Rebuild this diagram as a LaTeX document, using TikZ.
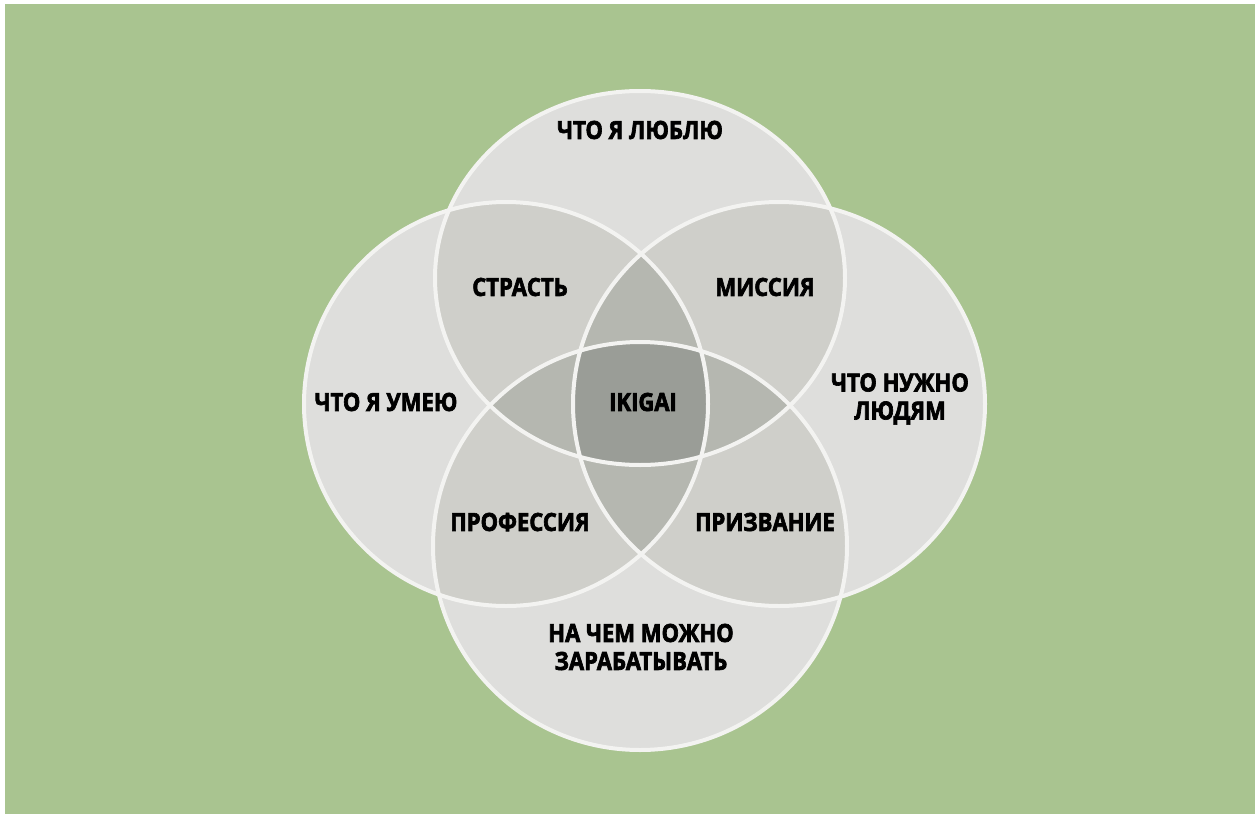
\documentclass[tikz,border=0pt]{standalone}
\usepackage{fontspec}
\setmainfont{Open Sans}
\newfontfamily\lblfont[FakeBold=2.6,FakeStretch=0.88]{Open Sans Bold}
\definecolor{bg}{RGB}{169,196,144}
\definecolor{cone}{RGB}{222,222,220}
\definecolor{ctwo}{RGB}{207,207,202}
\definecolor{cthree}{RGB}{181,183,176}
\definecolor{cfour}{RGB}{154,157,151}
\definecolor{rim}{RGB}{243,243,241}
\tikzset{
  eT/.style={x radius=205pt, y radius=187pt},
  eL/.style={x radius=202pt, y radius=202pt},
  eR/.style={x radius=206pt, y radius=202pt},
  eB/.style={x radius=207pt, y radius=204pt},
  lbl/.style={font=\lblfont\fontsize{25}{28}\selectfont, text=black, align=center, inner sep=0pt},
  rimline/.style={draw=rim, line width=4pt}
}
\begin{document}
\begin{tikzpicture}[x=1pt, y=-1pt]
\useasboundingbox (0,0) rectangle (1259,814);
\fill[white] (0,0) rectangle (1259,814);
\fill[bg] (5,4) rectangle (1255,814);
\coordinate (T) at (640,278);
\coordinate (L) at (506,404);
\coordinate (R) at (779,404);
\coordinate (B) at (640,546);
% single coverage
\fill[cone] (T) ellipse [eT];
\fill[cone] (L) ellipse [eL];
\fill[cone] (R) ellipse [eR];
\fill[cone] (B) ellipse [eB];
% double coverage
\begin{scope}\clip (T) ellipse [eT]; \fill[ctwo] (L) ellipse [eL]; \fill[ctwo] (R) ellipse [eR]; \fill[ctwo] (B) ellipse [eB];\end{scope}
\begin{scope}\clip (L) ellipse [eL]; \fill[ctwo] (R) ellipse [eR]; \fill[ctwo] (B) ellipse [eB];\end{scope}
\begin{scope}\clip (R) ellipse [eR]; \fill[ctwo] (B) ellipse [eB];\end{scope}
% triple coverage
\begin{scope}\clip (T) ellipse [eT]; \clip (L) ellipse [eL]; \fill[cthree] (R) ellipse [eR]; \fill[cthree] (B) ellipse [eB];\end{scope}
\begin{scope}\clip (T) ellipse [eT]; \clip (R) ellipse [eR]; \fill[cthree] (B) ellipse [eB];\end{scope}
\begin{scope}\clip (L) ellipse [eL]; \clip (R) ellipse [eR]; \fill[cthree] (B) ellipse [eB];\end{scope}
% quadruple coverage
\begin{scope}\clip (T) ellipse [eT]; \clip (L) ellipse [eL]; \clip (R) ellipse [eR]; \fill[cfour] (B) ellipse [eB];\end{scope}
% rims
\draw[rimline] (T) ellipse [eT];
\draw[rimline] (L) ellipse [eL];
\draw[rimline] (R) ellipse [eR];
\draw[rimline] (B) ellipse [eB];
% labels
\node[lbl] (love) at (640,130) {ЧТО Я ЛЮБЛЮ};
\node[lbl] (passion) at (520,287) {СТРАСТЬ};
\node[lbl] (mission) at (765,287) {МИССИЯ};
\node[lbl] (good) at (386,402) {ЧТО Я УМЕЮ};
\node[lbl] (ikigai) at (643,402) {IKIGAI};
\node[lbl] (need) at (900,399) {ЧТО НУЖНО\\ЛЮДЯМ};
\node[lbl] (prof) at (520,522) {ПРОФЕССИЯ};
\node[lbl] (voc) at (765,522) {ПРИЗВАНИЕ};
\node[lbl] (paid) at (641,647) {НА ЧЕМ МОЖНО\\ЗАРАБАТЫВАТЬ};
\end{tikzpicture}
\end{document}
